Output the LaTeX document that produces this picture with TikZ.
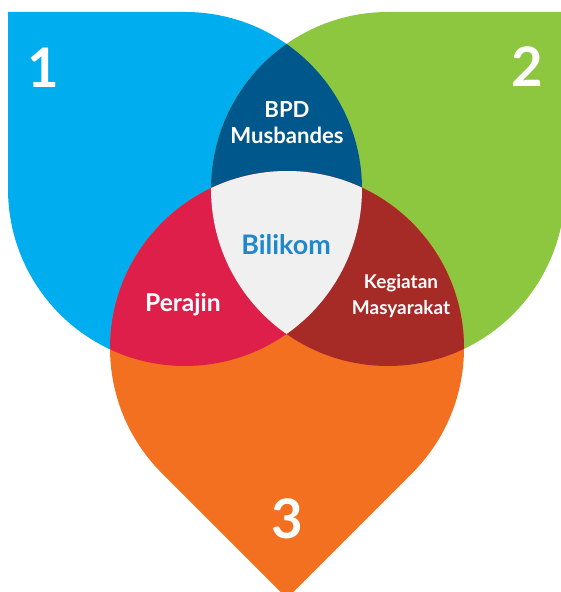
\documentclass[tikz,border=0pt]{standalone}
\usepackage{fontspec}
\setmainfont{Lato}
\usetikzlibrary{calc}
\definecolor{leafblue}{RGB}{0,174,239}
\definecolor{leafgreen}{RGB}{141,198,63}
\definecolor{leaforange}{RGB}{243,112,33}
\definecolor{musblue}{RGB}{0,87,140}
\definecolor{perajinred}{RGB}{222,31,73}
\definecolor{kegiatanred}{RGB}{166,43,39}
\definecolor{centergrey}{RGB}{240,240,240}
\definecolor{bilikomblue}{RGB}{30,136,204}

% the three leaves: a circle with one square corner
\newcommand{\leafone}{(8,580) -- (185,580) arc[start angle=90, end angle=-180, radius=177] -- cycle}
\newcommand{\leaftwo}{(565,580) -- (388,580) arc[start angle=90, end angle=360, radius=177] -- cycle}
\newcommand{\leafthree}{(412.16,118.84) arc[start angle=-45, end angle=225, radius=177] -- (287,-6.32) -- cycle}

\begin{document}
\begin{tikzpicture}[x=0.02cm, y=0.02cm,
  number/.style={text=white, font=\fontsize{31}{31}\selectfont\bfseries},
  overlap/.style={text=white, align=center, font=\fontsize{12.6}{14.7}\selectfont\bfseries}]

\useasboundingbox (0,0) rectangle (561,592);
\clip (0,0) rectangle (561,592);

% Leaves
\fill[leafblue] \leafone;
\fill[leafgreen] \leaftwo;
\fill[leaforange] \leafthree;

% Pairwise overlaps
\begin{scope}
  \clip \leafone;
  \fill[musblue] \leaftwo;
  \fill[perajinred] \leafthree;
\end{scope}
\begin{scope}
  \clip \leaftwo;
  \fill[kegiatanred] \leafthree;
\end{scope}

% Common part
\begin{scope}
  \clip \leafone;
  \clip \leaftwo;
  \fill[centergrey] \leafthree;
\end{scope}

% Numbers
\node[number] (one) at (43,524) {1};
\node[number] (two) at (527,525) {2};
\node[number] (three) at (287,73) {3};

% Labels
\node[overlap] (musbandes) at (287,469) {BPD\\Musbandes};
\node[overlap, font=\fontsize{14}{14}\selectfont\bfseries] (perajin) at (183,287) {Perajin};
\node[overlap, font=\fontsize{10.8}{15.3}\selectfont\bfseries] (kegiatan) at (401,296) {Kegiatan\\Masyarakat};
\node[text=bilikomblue, font=\fontsize{15.3}{15}\selectfont\bfseries] (bilikom) at (286,347) {Bilikom};

\end{tikzpicture}
\end{document}
